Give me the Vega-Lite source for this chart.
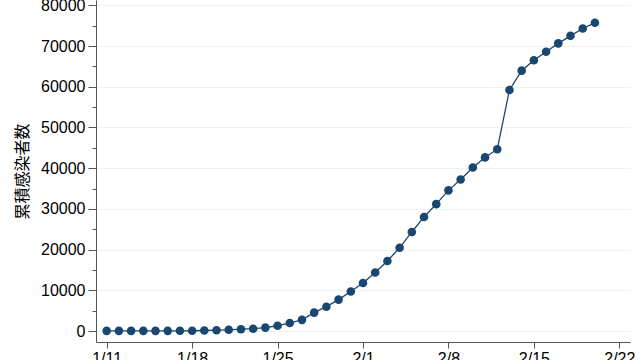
{
  "$schema": "https://vega.github.io/schema/vega-lite/v6.json",
  "width": 534,
  "height": 342,
  "autosize": {"type": "none"},
  "padding": {"left": 96, "top": 0, "right": 10, "bottom": 18},
  "background": "white",
  "config": {"view": {"stroke": null}, "font": "Liberation Sans"},
  "data": {"values": [
    {"date": "2020-01-11", "cases": 41},
    {"date": "2020-01-12", "cases": 41},
    {"date": "2020-01-13", "cases": 41},
    {"date": "2020-01-14", "cases": 41},
    {"date": "2020-01-15", "cases": 41},
    {"date": "2020-01-16", "cases": 41},
    {"date": "2020-01-17", "cases": 45},
    {"date": "2020-01-18", "cases": 62},
    {"date": "2020-01-19", "cases": 121},
    {"date": "2020-01-20", "cases": 198},
    {"date": "2020-01-21", "cases": 291},
    {"date": "2020-01-22", "cases": 440},
    {"date": "2020-01-23", "cases": 571},
    {"date": "2020-01-24", "cases": 830},
    {"date": "2020-01-25", "cases": 1287},
    {"date": "2020-01-26", "cases": 1975},
    {"date": "2020-01-27", "cases": 2744},
    {"date": "2020-01-28", "cases": 4515},
    {"date": "2020-01-29", "cases": 5974},
    {"date": "2020-01-30", "cases": 7711},
    {"date": "2020-01-31", "cases": 9692},
    {"date": "2020-02-01", "cases": 11791},
    {"date": "2020-02-02", "cases": 14380},
    {"date": "2020-02-03", "cases": 17205},
    {"date": "2020-02-04", "cases": 20438},
    {"date": "2020-02-05", "cases": 24324},
    {"date": "2020-02-06", "cases": 28018},
    {"date": "2020-02-07", "cases": 31161},
    {"date": "2020-02-08", "cases": 34546},
    {"date": "2020-02-09", "cases": 37198},
    {"date": "2020-02-10", "cases": 40171},
    {"date": "2020-02-11", "cases": 42638},
    {"date": "2020-02-12", "cases": 44653},
    {"date": "2020-02-13", "cases": 59200},
    {"date": "2020-02-14", "cases": 63951},
    {"date": "2020-02-15", "cases": 66492},
    {"date": "2020-02-16", "cases": 68600},
    {"date": "2020-02-17", "cases": 70648},
    {"date": "2020-02-18", "cases": 72500},
    {"date": "2020-02-19", "cases": 74300},
    {"date": "2020-02-20", "cases": 75700}
  ]},
  "resolve": {"axis": {"y": "independent"}, "scale": {"y": "shared", "x": "shared"}},
  "layer": [
    {
      "mark": {"type": "line", "color": "#1a476f", "strokeWidth": 1.3},
      "encoding": {
        "x": {
          "field": "date", "type": "temporal",
          "scale": {"type": "utc", "domain": [
            {"year": 2020, "month": 1, "date": 10, "hours": 3, "utc": true},
            {"year": 2020, "month": 2, "date": 22, "hours": 21, "utc": true}
          ]},
          "axis": {
            "title": null,
            "values": [
              {"year": 2020, "month": 1, "date": 11, "utc": true},
              {"year": 2020, "month": 1, "date": 18, "utc": true},
              {"year": 2020, "month": 1, "date": 25, "utc": true},
              {"year": 2020, "month": 2, "date": 1, "utc": true},
              {"year": 2020, "month": 2, "date": 8, "utc": true},
              {"year": 2020, "month": 2, "date": 15, "utc": true},
              {"year": 2020, "month": 2, "date": 22, "utc": true}
            ],
            "format": "%-m/%-d",
            "grid": false,
            "domainColor": "#555555",
            "tickColor": "#555555",
            "tickSize": 6,
            "labelPadding": 2,
            "labelFontSize": 16,
            "labelColor": "#000000",
            "labelFlush": false,
            "labelOverlap": false,
            "labelBound": false
          }
        },
        "y": {
          "field": "cases", "type": "quantitative",
          "scale": {"domain": [-2700, 81300], "nice": false, "zero": false},
          "axis": {
            "values": [0, 10000, 20000, 30000, 40000, 50000, 60000, 70000, 80000],
            "format": "d",
            "grid": true,
            "gridColor": "#eaf2f3",
            "gridWidth": 1,
            "domainColor": "#555555",
            "tickColor": "#555555",
            "tickSize": 8,
            "labelPadding": 3,
            "labelFontSize": 16,
            "labelColor": "#000000",
            "labelBound": false,
            "title": "累積感染者数",
            "titleFont": "Noto Sans CJK JP",
            "titleFontSize": 16,
            "titleFontWeight": "normal",
            "titleColor": "#000000",
            "titlePadding": 10
          }
        }
      }
    },
    {
      "mark": {"type": "point", "filled": true, "size": 74, "color": "#1a476f", "opacity": 1},
      "encoding": {
        "x": {"field": "date", "type": "temporal"},
        "y": {
          "field": "cases", "type": "quantitative",
          "axis": {
            "values": [5000, 15000, 25000, 35000, 45000, 55000, 65000, 75000],
            "orient": "left",
            "labels": false,
            "domain": false,
            "grid": false,
            "title": null,
            "tickColor": "#555555",
            "tickSize": 4
          }
        }
      }
    }
  ]
}
